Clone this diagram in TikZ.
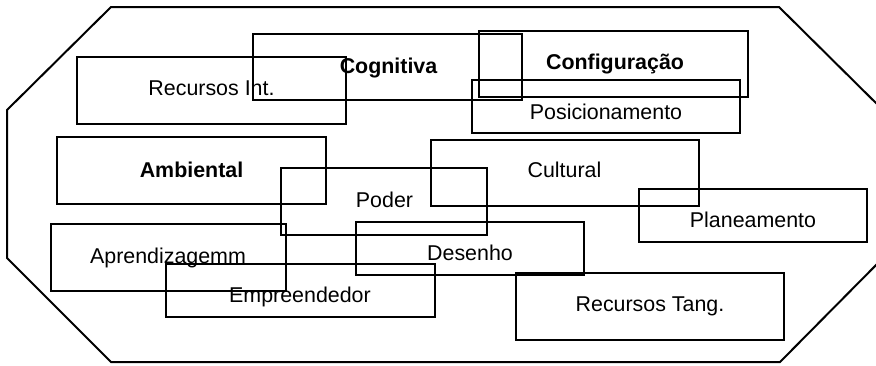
\documentclass[tikz,border=0pt]{standalone}
\usepackage{fontspec}
\setmainfont{Liberation Sans}
\usetikzlibrary{fit}

\tikzset{
  panel/.style={draw, line width=1pt, inner sep=0pt, rectangle},
  caption/.style={anchor=base, inner sep=0pt, font=\fontsize{10.7pt}{13pt}\selectfont},
  strong/.style={caption, font=\fontsize{10.7pt}{13pt}\selectfont\bfseries},
  hull/.style={draw, line width=1pt, line join=miter}
}

% corner-to-corner panel: name, x1, y1, x2, y2
\newcommand\panelbox[5]{%
  \coordinate (#1-a) at (#2,#3);
  \coordinate (#1-b) at (#4,#5);
  \node[panel, fit=(#1-a)(#1-b)] (#1) {};
}

\begin{document}
\begin{tikzpicture}[x=0.5pt, y=-0.5pt]
  \useasboundingbox (0,0) rectangle (876,365);
  \fill[white] (0,0) rectangle (876,365);
  \clip (0,0) rectangle (876,365);

  % outer octagon
  \draw[hull] (111,7) -- (779,7) -- (883,110) -- (883,258) -- (780,362)
              -- (111,362) -- (7,258) -- (7,110) -- cycle;

  % panels
  \panelbox{recint}{77}{57}{346}{124}
  \panelbox{cog}{253}{34}{522}{100}
  \panelbox{conf}{479}{31}{748}{97}
  \panelbox{pos}{472}{80}{740}{133}
  \panelbox{amb}{57}{137}{326}{204}
  \panelbox{pod}{281}{168}{487}{235}
  \panelbox{cult}{431}{140}{699}{206}
  \panelbox{plan}{639}{189}{867}{242}
  \panelbox{apr}{51}{224}{286}{291}
  \panelbox{des}{356}{222}{584}{275}
  \panelbox{emp}{166}{264}{435}{317}
  \panelbox{rectang}{516}{273}{784}{340}

  % captions
  \node[caption] (t-recint) at (211.5,95) {Recursos Int.};
  \node[strong]  (t-cog)    at (388.5,73) {Cognitiva};
  \node[strong]  (t-conf)   at (615,69)   {Configuração};
  \node[caption] (t-pos)    at (606,119)  {Posicionamento};
  \node[strong]  (t-amb)    at (191.5,177){Ambiental};
  \node[caption] (t-cult)   at (564.5,177){Cultural};
  \node[caption] (t-pod)    at (384.5,207){Poder};
  \node[caption] (t-plan)   at (753,227)  {Planeamento};
  \node[caption] (t-apr)    at (168,263)  {Aprendizagemm};
  \node[caption] (t-des)    at (470,260)  {Desenho};
  \node[caption] (t-emp)    at (300,302)  {Empreendedor};
  \node[caption] (t-rectang)at (650,311)  {Recursos Tang.};
\end{tikzpicture}
\end{document}
